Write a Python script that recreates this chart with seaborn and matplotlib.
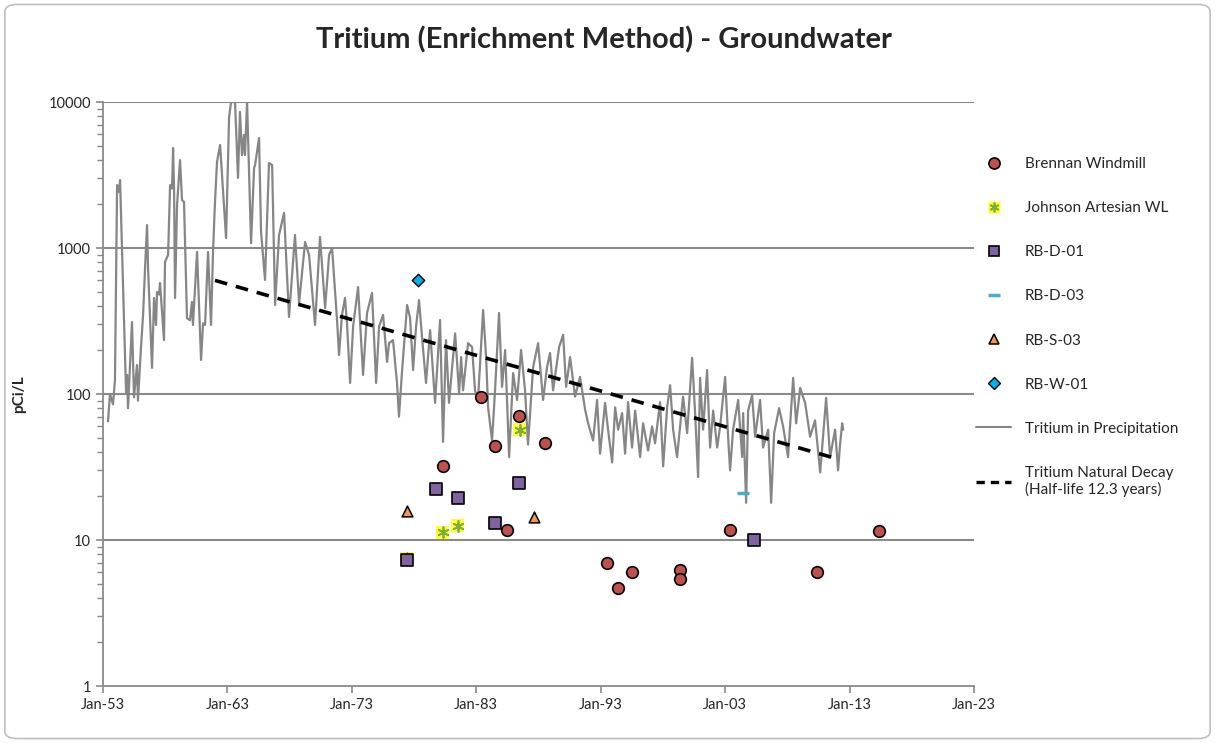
import pandas as pd
import seaborn as sns
import matplotlib.pyplot as plt
import matplotlib.dates as mdates
from matplotlib.lines import Line2D
from matplotlib.legend_handler import HandlerTuple
from matplotlib.patches import FancyBboxPatch
from matplotlib.ticker import FuncFormatter, LogLocator

# tritium in precipitation (decimal year, pCi/L)
precip_year = [
    1953.40, 1953.56, 1953.80, 1953.96, 1954.13, 1954.29, 1954.37, 1954.85, 1954.93, 1955.01,
    1955.33, 1955.49, 1955.73, 1955.81, 1956.05, 1956.22, 1956.38, 1956.54, 1956.62, 1956.94,
    1957.10, 1957.26, 1957.34, 1957.50, 1957.58, 1957.90, 1957.98, 1958.23, 1958.39, 1958.55,
    1958.63, 1958.71, 1958.79, 1958.95, 1959.19, 1959.35, 1959.51, 1959.75, 1959.99, 1960.15,
    1960.23, 1960.56, 1960.88, 1961.04, 1961.20, 1961.44, 1961.68, 1961.84, 1962.00, 1962.16,
    1962.41, 1962.89, 1963.13, 1963.29, 1963.61, 1963.85, 1964.01, 1964.17, 1964.33, 1964.41,
    1964.58, 1964.90, 1965.14, 1965.22, 1965.54, 1965.70, 1966.02, 1966.34, 1966.59, 1966.83,
    1967.15, 1967.55, 1967.95, 1968.43, 1968.76, 1969.24, 1969.56, 1970.04, 1970.44, 1970.85,
    1971.17, 1971.41, 1971.81, 1971.97, 1972.21, 1972.45, 1972.61, 1972.86, 1973.10, 1973.50,
    1973.90, 1974.22, 1974.62, 1974.95, 1975.19, 1975.51, 1975.83, 1975.99, 1976.31, 1976.63,
    1976.79, 1977.04, 1977.44, 1977.68, 1977.92, 1978.16, 1978.40, 1978.64, 1978.96, 1979.29,
    1979.69, 1980.09, 1980.33, 1980.57, 1980.81, 1981.30, 1981.62, 1981.78, 1981.94, 1982.34,
    1982.66, 1982.90, 1983.14, 1983.55, 1983.79, 1983.95, 1984.27, 1984.51, 1984.83, 1985.07,
    1985.32, 1985.64, 1985.96, 1986.28, 1986.60, 1986.92, 1987.16, 1987.57, 1987.97, 1988.37,
    1988.69, 1988.93, 1989.17, 1989.66, 1989.98, 1990.22, 1990.54, 1990.94, 1991.34, 1991.75,
    1991.99, 1992.39, 1992.71, 1992.95, 1993.35, 1993.59, 1993.92, 1994.16, 1994.40, 1994.72,
    1994.96, 1995.20, 1995.52, 1995.77, 1996.17, 1996.41, 1996.81, 1997.13, 1997.37, 1997.77,
    1998.02, 1998.34, 1998.58, 1998.82, 1999.14, 1999.38, 1999.62, 1999.95, 2000.35, 2000.59,
    2000.83, 2000.99, 2001.23, 2001.55, 2001.79, 2002.04, 2002.36, 2002.60, 2003.00, 2003.24,
    2003.40, 2003.64, 2004.05, 2004.37, 2004.45, 2004.69, 2004.85, 2005.17, 2005.41, 2005.81,
    2006.05, 2006.46, 2006.70, 2006.94, 2007.34, 2007.66, 2008.06, 2008.47, 2008.71, 2009.03,
    2009.43, 2009.83, 2010.23, 2010.64, 2011.12, 2011.44, 2011.84, 2012.08, 2012.24, 2012.41,
    2012.49,
]
precip_val = [
    65, 100, 85, 125, 2700, 2420, 2920, 103, 135, 80,
    311, 95, 158, 90, 206, 348, 730, 1437, 730, 151,
    455, 297, 500, 480, 576, 234, 802, 896, 2700, 2550,
    4840, 2550, 455, 1970, 4000, 2130, 2070, 331, 320, 427,
    297, 940, 171, 305, 297, 940, 297, 940, 2070, 3880,
    5080, 1170, 7770, 10000, 10000, 3020, 8550, 4330, 5940, 4330,
    10000, 1080, 3530, 3700, 5670, 1290, 604, 3820, 3700, 407,
    1230, 1740, 337, 1230, 420, 1100, 896, 297, 1190, 388,
    896, 1000, 320, 185, 348, 455, 305, 119, 290, 540,
    135, 359, 492, 119, 290, 348, 166, 223, 234, 119,
    70, 146, 407, 332, 146, 290, 440, 245, 119, 274,
    87, 321, 47, 234, 87, 260, 101, 179, 106, 223,
    210, 106, 91, 376, 179, 81, 48, 106, 359, 112,
    200, 37, 139, 91, 200, 106, 45, 153, 223, 91,
    153, 191, 106, 210, 254, 112, 179, 96, 131, 78,
    63, 48, 91, 39, 87, 57, 34, 81, 57, 74,
    39, 88, 43, 77, 37, 63, 41, 60, 46, 88,
    32, 81, 115, 57, 37, 60, 96, 54, 177, 74,
    27, 129, 57, 146, 43, 77, 43, 60, 131, 51,
    30, 57, 91, 37, 74, 18, 77, 98, 51, 91,
    43, 57, 18, 54, 80, 60, 37, 129, 63, 110,
    87, 51, 66, 29, 94, 37, 57, 30, 45, 63,
    57,
]

# natural decay line end points
decay_year = [1962.0, 2012.0]
decay_val = [600, 36]

# groundwater samples
brennan_year = [1980.3, 1983.4, 1984.5, 1985.5, 1986.4, 1988.5, 1993.5, 1994.4, 1995.5,
                1999.4, 1999.4, 2003.4, 2010.4, 2015.4]
brennan_val = [32, 95, 44, 11.7, 71, 46, 7.0, 4.7, 6.0, 6.2, 5.4, 11.7, 6.0, 11.5]
johnson_year = [1977.4, 1980.3, 1981.5, 1986.5]
johnson_val = [7.5, 11.3, 12.5, 57]
rbd01_year = [1977.4, 1979.8, 1981.5, 1984.5, 1986.4, 2005.3]
rbd01_val = [7.3, 22.4, 19.4, 13.1, 24.6, 10.0]
rbd03_year = [2004.4]
rbd03_val = [21]
rbs03_year = [1977.4, 1987.6]
rbs03_val = [15.8, 14.4]
rbw01_year = [1978.3]
rbw01_val = [600]


def to_date(years):
    out = []
    for y in years:
        yi = int(y)
        out.append(pd.Timestamp(yi, 1, 1) + pd.Timedelta(days=(y - yi) * 365.25))
    return out


sns.set_style("ticks")
plt.rcParams['font.family'] = ['Lato', 'DejaVu Sans']

fig = plt.figure(figsize=(12.15, 7.43), dpi=100)
ax = fig.add_axes([0.0848, 0.0767, 0.8016 - 0.0848, 0.8627 - 0.0767])

grey = '#8a8a8a'
for v in [10, 100, 1000, 10000]:
    ax.axhline(v, color=grey, lw=1.5, zorder=0)

sns.lineplot(x=to_date(precip_year), y=precip_val, ax=ax, color='#868686', lw=1.6,
             estimator=None, sort=False, zorder=2)
sns.lineplot(x=to_date(decay_year), y=decay_val, ax=ax, color='black', lw=2.6,
             estimator=None, zorder=3, dashes=False, linestyle=(0, (3.5, 2.5)))

sns.scatterplot(x=to_date(brennan_year), y=brennan_val, ax=ax, marker='o', s=70,
                color='#c0504d', edgecolor='black', linewidth=1.2, zorder=5)
sns.scatterplot(x=to_date(johnson_year), y=johnson_val, ax=ax, marker='s', s=90,
                color='#ffff33', edgecolor='none', linewidth=0, zorder=4)
sns.scatterplot(x=to_date(johnson_year), y=johnson_val, ax=ax, marker=(6, 2, 0), s=60,
                color='#7faf3a', linewidth=1.3, zorder=4)
sns.scatterplot(x=to_date(rbd01_year), y=rbd01_val, ax=ax, marker='s', s=65,
                color='#8064a2', edgecolor='black', linewidth=1.2, zorder=5)
sns.scatterplot(x=to_date(rbd03_year), y=rbd03_val, ax=ax, marker='_', s=80,
                color='#4bacc6', linewidth=2.5, zorder=5)
sns.scatterplot(x=to_date(rbs03_year), y=rbs03_val, ax=ax, marker='^', s=60,
                color='#f79646', edgecolor='black', linewidth=1.1, zorder=5)
sns.scatterplot(x=to_date(rbw01_year), y=rbw01_val, ax=ax, marker='D', s=40,
                color='#00b0f0', edgecolor='black', linewidth=1.0, zorder=5)

ax.set_yscale('log')
ax.set_ylim(1, 10000)
ax.set_xlim(pd.Timestamp(1953, 1, 1), pd.Timestamp(2023, 1, 1))
ax.set_xticks([pd.Timestamp(y, 1, 1) for y in range(1953, 2024, 10)])
ax.xaxis.set_major_formatter(mdates.DateFormatter('%b-%y'))
ax.yaxis.set_major_formatter(FuncFormatter(lambda v, p: f"{v:g}"))
ax.yaxis.set_minor_locator(LogLocator(base=10, subs=range(2, 10)))
ax.yaxis.set_minor_formatter(FuncFormatter(lambda v, p: ""))
ax.tick_params(axis='both', which='major', labelsize=10.5, color=grey, length=5, width=1.2)
ax.tick_params(axis='y', which='minor', color=grey, length=4, width=1.0)
ax.tick_params(axis='x', which='minor', bottom=False)

sns.despine(ax=ax, top=True, right=True)
for s in ['left', 'bottom']:
    ax.spines[s].set_color(grey)
    ax.spines[s].set_linewidth(1.3)

ax.set_ylabel('pCi/L', fontsize=11, fontweight='bold', labelpad=16)
ax.set_xlabel('')
fig.suptitle('Tritium (Enrichment Method) - Groundwater', fontsize=21, fontweight='bold',
             x=0.497, y=0.965)

handles = [
    Line2D([], [], ls='none', marker='o', ms=8, mfc='#c0504d', mec='black', mew=1.2),
    (Line2D([], [], ls='none', marker='s', ms=9, mfc='#ffff33', mec='none'),
     Line2D([], [], ls='none', marker=(6, 2, 0), ms=7, color='#7faf3a', mew=1.3)),
    Line2D([], [], ls='none', marker='s', ms=7.5, mfc='#8064a2', mec='black', mew=1.2),
    Line2D([], [], ls='none', marker='_', ms=8, color='#4bacc6', mew=2.5),
    Line2D([], [], ls='none', marker='^', ms=7.5, mfc='#f79646', mec='black', mew=1.1),
    Line2D([], [], ls='none', marker='D', ms=6, mfc='#00b0f0', mec='black', mew=1.0),
    Line2D([], [], color='#868686', lw=1.5),
    Line2D([], [], color='black', lw=2.4, linestyle=(0, (2.5, 1.8))),
]
labels = ['Brennan Windmill', 'Johnson Artesian WL', 'RB-D-01', 'RB-D-03', 'RB-S-03',
          'RB-W-01', 'Tritium in Precipitation',
          'Tritium Natural Decay\n(Half-life 12.3 years)']
fig.legend(handles, labels, loc='upper left', bbox_to_anchor=(0.792, 0.807),
           frameon=False, fontsize=11, labelspacing=1.97, handlelength=2.3,
           handletextpad=0.9, handler_map={tuple: HandlerTuple(ndivide=1)})

fig.patches.append(FancyBboxPatch((0.004, 0.006), 0.992, 0.988, transform=fig.transFigure,
                                  boxstyle='round,pad=0,rounding_size=0.01',
                                  fill=False, edgecolor='#bfbfbf', lw=1.2))

fig.savefig('out.png', dpi=100)
